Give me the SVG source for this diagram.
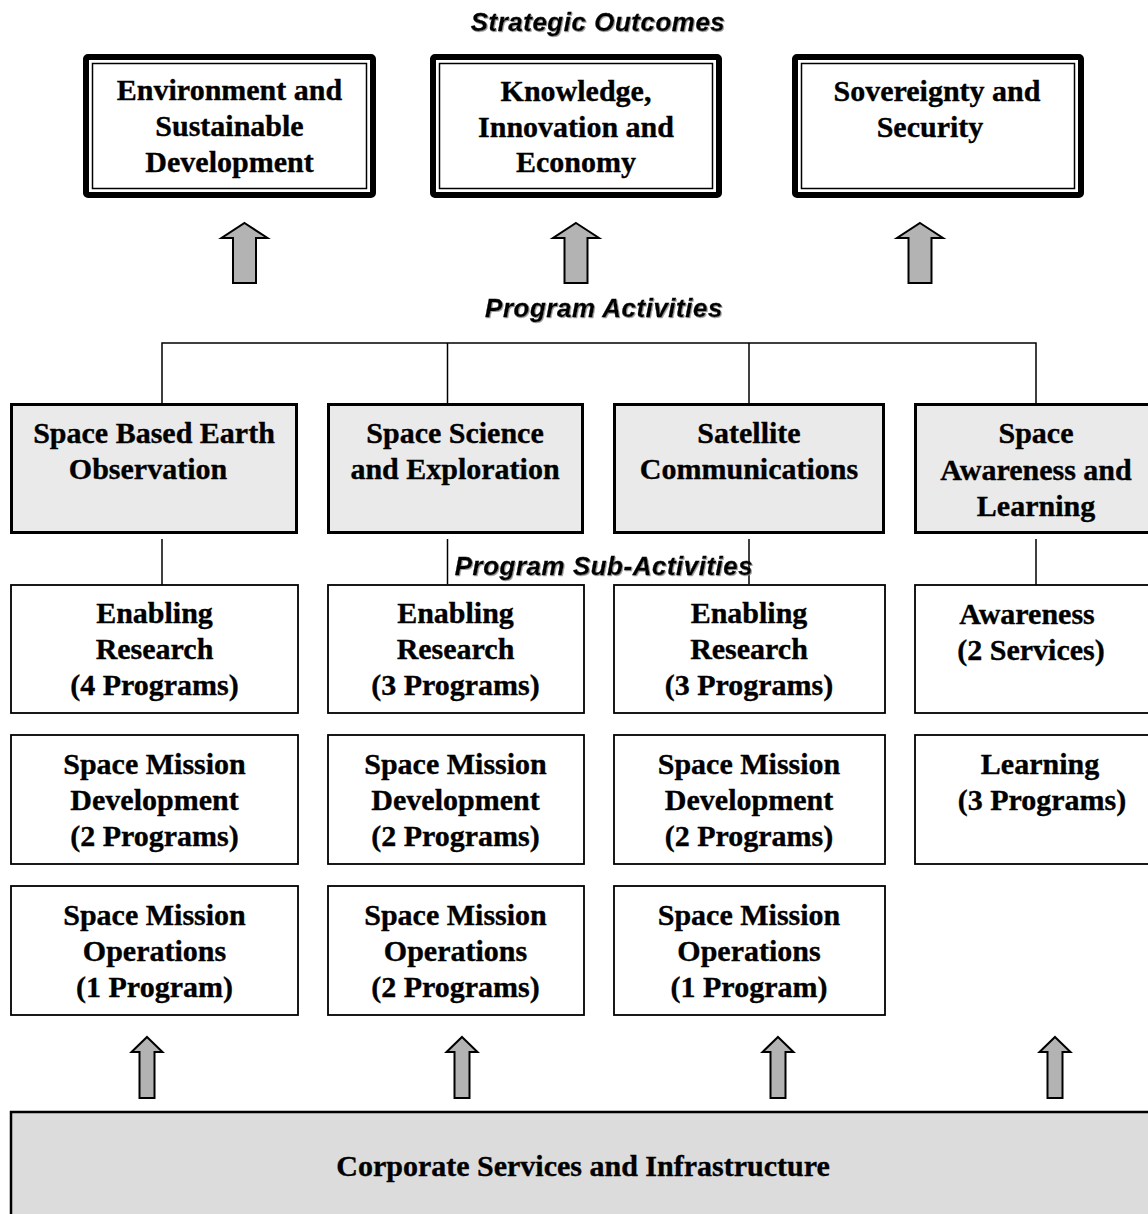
<svg xmlns="http://www.w3.org/2000/svg" width="1148" height="1214" viewBox="0 0 1148 1214">
<defs>
<style>
.t{font-family:"Liberation Serif","Times New Roman",serif;font-weight:bold;font-size:30px;fill:#000;stroke:#000;stroke-width:0.35px;text-anchor:middle}
.h{font-family:"Liberation Sans",Arial,sans-serif;font-weight:bold;font-style:italic;font-size:26px;letter-spacing:0.5px;fill:#000;stroke:#000;stroke-width:0.3px;text-anchor:middle}
.outer{fill:#fff;stroke:#000;stroke-width:6}
.inner{fill:none;stroke:#000;stroke-width:1.5}
.pa{fill:#eaeaea;stroke:#000;stroke-width:3}
.sub{fill:#fff;stroke:#000;stroke-width:1.8}
.corp{fill:#dcdcdc;stroke:#000;stroke-width:2.5}
.arr{fill:#b3b3b3;stroke:#000;stroke-width:2;stroke-linejoin:miter}
.ln{fill:none;stroke:#000;stroke-width:1.5}
</style>
<filter id="sh" x="-5%" y="-20%" width="110%" height="140%">
<feDropShadow dx="1" dy="1" stdDeviation="0.6" flood-color="#888" flood-opacity="0.8"/>
</filter>
</defs>
<rect width="1148" height="1214" fill="#fff"/>

<g id="labels" filter="url(#sh)">
<text class="h" x="598" y="31">Strategic Outcomes</text>
<text class="h" x="604" y="317">Program Activities</text>
</g>

<g id="connectors">
<polyline class="ln" points="162,403 162,343 1036,343 1036,403"/>
<line class="ln" x1="447.5" y1="343" x2="447.5" y2="403"/>
<line class="ln" x1="749" y1="343" x2="749" y2="403"/>
<line class="ln" x1="162" y1="539" x2="162" y2="585"/>
<line class="ln" x1="447.5" y1="539" x2="447.5" y2="584"/>
<line class="ln" x1="749" y1="539" x2="749" y2="584"/>
<line class="ln" x1="1036" y1="539" x2="1036" y2="585"/>
<polygon class="arr" points="244.5,223 267.5,238 256,238 256,283 233,283 233,238 221.5,238"/>
<polygon class="arr" points="576,223 599,238 587.5,238 587.5,283 564.5,283 564.5,238 553,238"/>
<polygon class="arr" points="920,223 943,238 931.5,238 931.5,283 908.5,283 908.5,238 897,238"/>
<polygon class="arr" points="147,1037 162.5,1052 154.5,1052 154.5,1098 139.5,1098 139.5,1052 131.5,1052"/>
<polygon class="arr" points="462,1037 477.5,1052 469.5,1052 469.5,1098 454.5,1098 454.5,1052 446.5,1052"/>
<polygon class="arr" points="778,1037 793.5,1052 785.5,1052 785.5,1098 770.5,1098 770.5,1052 762.5,1052"/>
<polygon class="arr" points="1055,1037 1070.5,1052 1062.5,1052 1062.5,1098 1047.5,1098 1047.5,1052 1039.5,1052"/>
</g>

<g id="so1">
<rect class="outer" x="86" y="57" width="287" height="138" rx="2"/>
<rect class="inner" x="92.5" y="63.5" width="274" height="125"/>
<text class="t" x="229.5" y="100">Environment and</text>
<text class="t" x="229.5" y="136">Sustainable</text>
<text class="t" x="229.5" y="172">Development</text>
</g>
<g id="so2">
<rect class="outer" x="433" y="57" width="286" height="138" rx="2"/>
<rect class="inner" x="439.5" y="63.5" width="273" height="125"/>
<text class="t" x="576" y="101">Knowledge,</text>
<text class="t" x="576" y="137">Innovation and</text>
<text class="t" x="576" y="172">Economy</text>
</g>
<g id="so3">
<rect class="outer" x="795" y="57" width="286" height="138" rx="2"/>
<rect class="inner" x="801.5" y="63.5" width="273" height="125"/>
<text class="t" x="937" y="101">Sovereignty and</text>
<text class="t" x="930" y="137">Security</text>
</g>

<g id="pa1">
<rect class="pa" x="11.5" y="404.5" width="285" height="128"/>
<text class="t" x="154" y="443">Space Based Earth</text>
<text class="t" x="148" y="479">Observation</text>
</g>
<g id="pa2">
<rect class="pa" x="328.5" y="404.5" width="254" height="128"/>
<text class="t" x="455" y="443">Space Science</text>
<text class="t" x="455" y="479">and Exploration</text>
</g>
<g id="pa3">
<rect class="pa" x="614.5" y="404.5" width="269" height="128"/>
<text class="t" x="749" y="443">Satellite</text>
<text class="t" x="749" y="479">Communications</text>
</g>
<g id="pa4">
<rect class="pa" x="915.5" y="404.5" width="245" height="128"/>
<text class="t" x="1036" y="443">Space</text>
<text class="t" x="1036" y="480">Awareness and</text>
<text class="t" x="1036" y="516">Learning</text>
</g>

<g id="sublabel" filter="url(#sh)">
<text class="h" x="604" y="575">Program Sub-Activities</text>
</g>

<g id="er1">
<rect class="sub" x="11" y="585" width="287" height="128"/>
<text class="t" x="154.5" y="623">Enabling</text>
<text class="t" x="154.5" y="659">Research</text>
<text class="t" x="154.5" y="695">(4 Programs)</text>
</g>
<g id="smd1">
<rect class="sub" x="11" y="735" width="287" height="129"/>
<text class="t" x="154.5" y="774">Space Mission</text>
<text class="t" x="154.5" y="810">Development</text>
<text class="t" x="154.5" y="846">(2 Programs)</text>
</g>
<g id="smo1">
<rect class="sub" x="11" y="886" width="287" height="129"/>
<text class="t" x="154.5" y="925">Space Mission</text>
<text class="t" x="154.5" y="961">Operations</text>
<text class="t" x="154.5" y="997">(1 Program)</text>
</g>

<g id="er2">
<rect class="sub" x="328" y="585" width="256" height="128"/>
<text class="t" x="455.5" y="623">Enabling</text>
<text class="t" x="455.5" y="659">Research</text>
<text class="t" x="455.5" y="695">(3 Programs)</text>
</g>
<g id="smd2">
<rect class="sub" x="328" y="735" width="256" height="129"/>
<text class="t" x="455.5" y="774">Space Mission</text>
<text class="t" x="455.5" y="810">Development</text>
<text class="t" x="455.5" y="846">(2 Programs)</text>
</g>
<g id="smo2">
<rect class="sub" x="328" y="886" width="256" height="129"/>
<text class="t" x="455.5" y="925">Space Mission</text>
<text class="t" x="455.5" y="961">Operations</text>
<text class="t" x="455.5" y="997">(2 Programs)</text>
</g>

<g id="er3">
<rect class="sub" x="614" y="585" width="271" height="128"/>
<text class="t" x="749" y="623">Enabling</text>
<text class="t" x="749" y="659">Research</text>
<text class="t" x="749" y="695">(3 Programs)</text>
</g>
<g id="smd3">
<rect class="sub" x="614" y="735" width="271" height="129"/>
<text class="t" x="749" y="774">Space Mission</text>
<text class="t" x="749" y="810">Development</text>
<text class="t" x="749" y="846">(2 Programs)</text>
</g>
<g id="smo3">
<rect class="sub" x="614" y="886" width="271" height="129"/>
<text class="t" x="749" y="925">Space Mission</text>
<text class="t" x="749" y="961">Operations</text>
<text class="t" x="749" y="997">(1 Program)</text>
</g>

<g id="aw">
<rect class="sub" x="915" y="585" width="245" height="128"/>
<text class="t" x="1027" y="624">Awareness</text>
<text class="t" x="1031" y="660">(2 Services)</text>
</g>
<g id="le">
<rect class="sub" x="915" y="735" width="245" height="129"/>
<text class="t" x="1040" y="774">Learning</text>
<text class="t" x="1042" y="810">(3 Programs)</text>
</g>

<g id="corp">
<rect class="corp" x="11" y="1112" width="1150" height="120"/>
<text class="t" x="583" y="1176">Corporate Services and Infrastructure</text>
</g>
</svg>
